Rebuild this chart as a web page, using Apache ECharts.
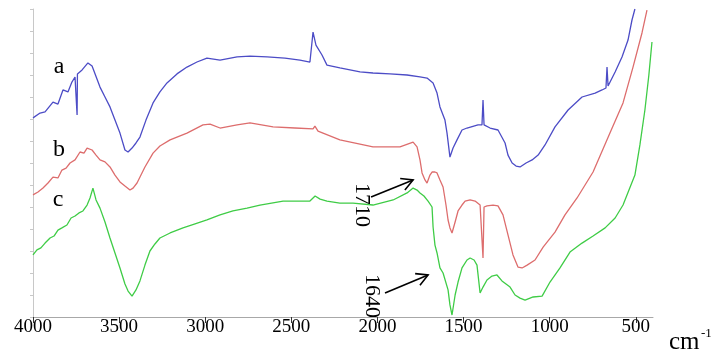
<!DOCTYPE html>
<html>
<head>
<meta charset="utf-8">
<script src="https://cdn.jsdelivr.net/npm/echarts@6/dist/echarts.min.js"></script>
<style>
  html, body { margin: 0; padding: 0; background: #fff; }
  #chart { width: 715px; height: 358px; }
</style>
</head>
<body>
<div id="chart"></div>
<script>
// x axis tick labels (cm-1)
const tickLabels = [4000, 3500, 3000, 2500, 2000, 1500, 1000, 500];

// curve a (blue)
const waveA = [4000, 3959, 3930, 3884, 3855, 3826, 3797, 3774, 3756, 3747, 3744, 3742, 3715, 3681, 3657, 3611, 3582, 3553, 3524, 3495,
  3466, 3448, 3425, 3402, 3379, 3344, 3303, 3263, 3222, 3164, 3106, 3048, 2990, 2914, 2815, 2740, 2641, 2537, 2450, 2392,
  2374, 2357, 2346, 2322, 2293, 2218, 2101, 2026, 1927, 1828, 1753, 1712, 1677, 1654, 1637, 1608, 1596, 1579, 1561, 1538,
  1509, 1480, 1416, 1393, 1387, 1381, 1346, 1300, 1259, 1242, 1218, 1195, 1172, 1137, 1102, 1067, 1027, 969, 893, 812,
  736, 696, 673, 667, 661, 620, 580, 545, 522, 505];
const valA = [9.05, 9.27, 9.32, 9.77, 9.68, 10.32, 10.23, 10.68, 10.91, 11.0, 9.18, 11.05, 11.23, 11.55, 11.41, 10.45, 10.0, 9.55, 8.95, 8.36,
  7.59, 7.5, 7.68, 7.91, 8.18, 8.95, 9.73, 10.23, 10.64, 11.05, 11.36, 11.59, 11.77, 11.68, 11.82, 11.86, 11.82, 11.77, 11.68, 11.59,
  12.95, 12.36, 12.27, 11.91, 11.45, 11.32, 11.14, 11.09, 11.05, 11.0, 10.91, 10.86, 10.64, 10.18, 9.55, 8.95, 8.36, 7.27, 7.68, 8.05,
  8.5, 8.59, 8.73, 8.73, 9.86, 8.73, 8.59, 8.5, 7.91, 7.36, 7.0, 6.86, 6.82, 7.0, 7.14, 7.36, 7.82, 8.64, 9.41, 10.0,
  10.18, 10.32, 10.41, 11.36, 10.5, 11.14, 11.82, 12.59, 13.5, 14.0];

// curve b (red)
const waveB = [4000, 3971, 3942, 3913, 3884, 3855, 3832, 3808, 3785, 3756, 3727, 3704, 3686, 3657, 3634, 3611, 3582, 3553, 3524, 3495,
  3466, 3437, 3419, 3396, 3350, 3303, 3263, 3204, 3106, 3013, 2972, 2914, 2815, 2740, 2606, 2479, 2374, 2363, 2345, 2218,
  2026, 1869, 1793, 1770, 1753, 1741, 1724, 1712, 1695, 1683, 1666, 1654, 1637, 1619, 1602, 1590, 1579, 1567, 1549, 1532,
  1509, 1491, 1462, 1433, 1404, 1393, 1387, 1381, 1364, 1329, 1300, 1271, 1242, 1213, 1184, 1160, 1131, 1085, 1038, 969,
  911, 841, 748, 650, 574, 516, 464, 435];
const valB = [5.55, 5.68, 5.86, 6.09, 6.36, 6.32, 6.68, 6.77, 7.0, 7.14, 7.5, 7.45, 7.68, 7.59, 7.36, 7.14, 7.05, 6.82, 6.45, 6.14,
  5.95, 5.77, 5.86, 6.09, 6.82, 7.45, 7.77, 8.05, 8.36, 8.73, 8.77, 8.59, 8.73, 8.82, 8.64, 8.59, 8.55, 8.68, 8.45, 8.05,
  7.73, 7.73, 7.95, 7.73, 7.14, 6.55, 6.23, 6.09, 6.45, 6.59, 6.59, 6.55, 6.23, 5.91, 5.09, 4.41, 4.05, 3.82, 4.32, 4.82,
  5.09, 5.27, 5.32, 5.27, 5.09, 5.0, 2.68, 5.0, 5.05, 5.09, 5.05, 4.64, 3.73, 2.82, 2.27, 2.23, 2.36, 2.59, 3.18, 3.86,
  4.64, 5.41, 6.59, 8.36, 9.73, 11.36, 12.91, 13.95];

// curve c (green)
const waveC = [4000, 3977, 3954, 3930, 3901, 3878, 3855, 3832, 3803, 3779, 3756, 3733, 3710, 3686, 3669, 3652, 3634, 3611, 3582, 3553,
  3524, 3495, 3466, 3448, 3425, 3402, 3379, 3350, 3321, 3292, 3263, 3204, 3129, 3059, 2990, 2914, 2839, 2757, 2682, 2548,
  2392, 2362, 2333, 2293, 2218, 2142, 2026, 1909, 1828, 1793, 1770, 1753, 1730, 1706, 1683, 1677, 1666, 1654, 1637, 1619,
  1608, 1590, 1579, 1567, 1549, 1532, 1509, 1480, 1462, 1439, 1422, 1404, 1387, 1364, 1335, 1306, 1277, 1230, 1201, 1172,
  1143, 1096, 1044, 998, 940, 882, 812, 748, 678, 620, 574, 505, 476, 447, 424, 406];
const valC = [2.82, 3.05, 3.14, 3.36, 3.59, 3.68, 3.95, 4.05, 4.18, 4.5, 4.59, 4.73, 4.82, 5.09, 5.41, 5.86, 5.32, 4.95, 4.32, 3.59,
  2.91, 2.23, 1.5, 1.18, 0.95, 1.23, 1.64, 2.36, 3.0, 3.32, 3.59, 3.82, 4.05, 4.23, 4.41, 4.64, 4.82, 4.95, 5.09, 5.27,
  5.27, 5.5, 5.36, 5.27, 5.18, 5.18, 5.09, 5.32, 5.64, 5.86, 5.77, 5.64, 5.5, 5.27, 5.0, 4.09, 3.27, 2.91, 2.23, 2.0,
  1.91, 1.23, 0.55, 0.09, 1.0, 1.59, 2.23, 2.59, 2.68, 2.59, 2.36, 1.09, 1.36, 1.68, 1.86, 1.91, 1.64, 1.36, 1.0, 0.86,
  0.77, 0.91, 0.95, 1.59, 2.23, 2.95, 3.36, 3.68, 4.05, 4.5, 5.09, 6.45, 7.82, 9.41, 11.0, 12.5];

// curve names and where they sit (data coords)
const curveNames = ["a", "b", "c"];
const curveLabelWave = [3849, 3849, 3855];
const curveLabelVal = [11.36, 7.59, 5.32];

// peak annotations
const peakTexts = ["1710", "1640"];
const peakTextAt = [[2090, 5.09], [2031, 0.95]];
const arrowFrom = [[2037, 5.45], [1956, 1.09]];
const arrowTo = [[1793, 6.23], [1706, 1.91]];

const zip = (xs, ys) => xs.map((x, i) => [x, ys[i]]);

const chart = echarts.init(document.getElementById("chart"));

chart.setOption({
  animation: false,
  backgroundColor: "#fff",
  grid: { left: 33, right: 62, top: 9, bottom: 41 },
  xAxis: {
    type: "value",
    inverse: true,
    min: 400,
    max: 4000,
    splitLine: { show: false },
    axisLine: { lineStyle: { color: "#a8a8a8", width: 1 } },
    axisTick: {
      customValues: tickLabels,
      length: 6,
      lineStyle: { color: "#333" }
    },
    axisLabel: {
      customValues: tickLabels,
      margin: 1,
      color: "#000",
      fontSize: 19,
      fontFamily: "Liberation Serif",
      formatter: v => String(v)
    }
  },
  yAxis: {
    type: "value",
    min: 0,
    max: 14,
    interval: 1,
    splitLine: { show: false },
    axisLine: { show: true, lineStyle: { color: "#c8c8c8" } },
    axisTick: { show: true, length: 3, lineStyle: { color: "#c8c8c8" } },
    axisLabel: { show: false }
  },
  series: [
    {
      name: "a",
      type: "line",
      data: zip(waveA, valA),
      showSymbol: false,
      lineStyle: { color: "#4c4cc6", width: 1.3 }
    },
    {
      name: "b",
      type: "line",
      data: zip(waveB, valB),
      showSymbol: false,
      lineStyle: { color: "#dd6d6d", width: 1.3 }
    },
    {
      name: "c",
      type: "line",
      data: zip(waveC, valC),
      showSymbol: false,
      lineStyle: { color: "#3fcc46", width: 1.3 }
    }
  ]
});

// annotations placed from data coordinates
const toPx = p => chart.convertToPixel({ gridIndex: 0 }, p);
const graphics = [];

curveNames.forEach((n, i) => {
  const p = toPx([curveLabelWave[i], curveLabelVal[i]]);
  graphics.push({
    type: "text",
    x: p[0],
    y: p[1],
    style: {
      text: n,
      fontSize: 24,
      fontFamily: "Liberation Serif",
      fill: "#000",
      align: "center",
      verticalAlign: "middle"
    }
  });
});

peakTexts.forEach((t, i) => {
  const c = toPx(peakTextAt[i]);
  graphics.push({
    type: "text",
    x: c[0],
    y: c[1],
    rotation: -Math.PI / 2,
    style: {
      text: t,
      fontSize: 22,
      fontFamily: "Liberation Serif",
      fill: "#000",
      align: "center",
      verticalAlign: "middle"
    }
  });
  const a = toPx(arrowFrom[i]);
  const b = toPx(arrowTo[i]);
  const ang = Math.atan2(b[1] - a[1], b[0] - a[0]);
  const len = 13;
  const spread = 0.5;
  graphics.push({
    type: "polyline",
    shape: { points: [a, b] },
    style: { stroke: "#000", lineWidth: 1.6, fill: null }
  });
  graphics.push({
    type: "polyline",
    shape: {
      points: [
        [b[0] - len * Math.cos(ang - spread), b[1] - len * Math.sin(ang - spread)],
        b,
        [b[0] - len * Math.cos(ang + spread), b[1] - len * Math.sin(ang + spread)]
      ]
    },
    style: { stroke: "#000", lineWidth: 1.6, fill: null }
  });
});

// unit label
graphics.push({
  type: "text",
  left: 669,
  top: 330,
  style: { text: "cm", fontSize: 25, fontFamily: "Liberation Serif", fill: "#000" }
});
graphics.push({
  type: "text",
  left: 701,
  top: 327,
  style: { text: "-1", fontSize: 13, fontFamily: "Liberation Serif", fill: "#000" }
});

chart.setOption({ graphic: graphics });
</script>
</body>
</html>
